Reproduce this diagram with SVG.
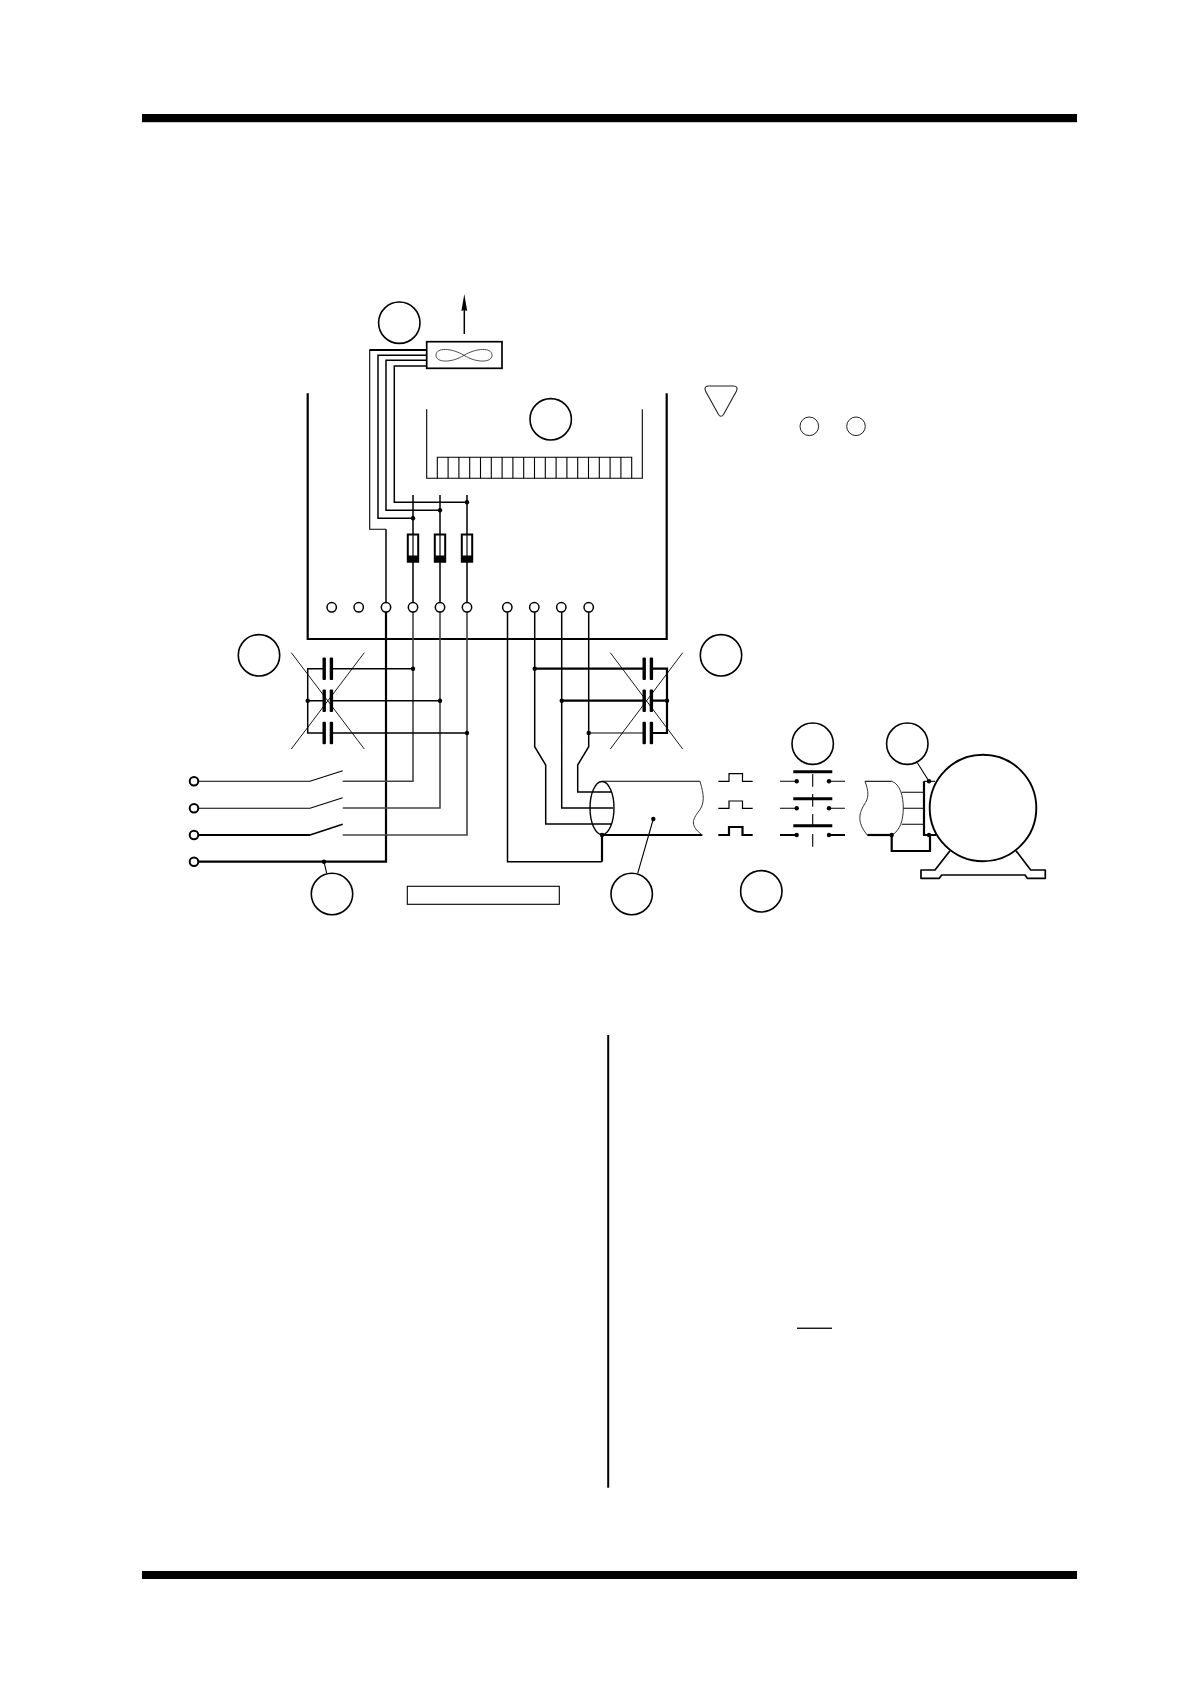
<svg xmlns="http://www.w3.org/2000/svg" width="1190" height="1684" viewBox="0 0 1190 1684">
<defs>
<g id="term"><circle r="4.7" fill="#fff" stroke="#000" stroke-width="1.5"/></g>
<g id="lug"><circle r="4.3" fill="#fff" stroke="#000" stroke-width="2"/></g>
<g id="fuse"><rect x="-5.2" y="-13.5" width="10.4" height="27" fill="#fff" stroke="#000" stroke-width="2"/><rect x="-6" y="7.5" width="12" height="7" fill="#000"/><line x1="0" y1="-13.5" x2="0" y2="8" stroke="#000" stroke-width="1.2"/></g>
<g id="cap"><rect x="-5.2" y="-11.2" width="3.4" height="22.4" rx="1" fill="#000"/><rect x="2" y="-11.2" width="3.4" height="22.4" rx="1" fill="#000"/></g>
</defs>
<style>
.bubble{fill:#fff;stroke:#000;stroke-width:1.6}
.w{fill:none;stroke:#000;stroke-linejoin:miter}
.t1{stroke-width:1.1}.t15{stroke-width:1.5}.t2{stroke-width:2.2}
.g{stroke:#444;stroke-width:1.6}
.x{stroke:#000;stroke-width:.9;fill:none}
.dot{fill:#000}
</style>
<rect width="1190" height="1684" fill="#fff"/>
<g id="page-rules" fill="#000">
<rect x="142" y="114" width="935" height="8.2"/>
<rect x="142" y="1571" width="935" height="8"/>
<rect x="607.2" y="1035" width="2" height="452.7"/>
<rect x="797" y="1327.6" width="35" height="1.3"/>
</g>
<g id="connectors">
<path class="w t2" d="M307.7 393.3V639H666.7V393.3"/>
<path class="w t1" d="M426.7 350H369.7V529.3H386"/>
<path class="w t15" d="M386 529.3V602"/>
<path class="w t2" d="M426.7 350H369.7"/>
<path class="w t15" d="M426.7 355.3H378V518.3H413"/>
<path class="w t15" d="M426.7 360.3H386V510.3H440"/>
<path class="w t15" d="M426.7 366H394.3V502.3H467"/>
<path class="w t15" d="M413 495V602M440 495V602M467 495V602"/>
<path class="w t2" d="M386 612V861.7H198.5"/>
<path class="w g" d="M413 612V781.3H342.7M440 612V808H342.7M467 612V835H342.7"/>
<path class="w t1" d="M198.3 781.3H310L342.7 770.7M198.3 808.3H310L342.7 797.7"/>
<path class="w t2" d="M198.3 835H310"/><path class="w t15" d="M310 835L342.7 824.3"/>
<path class="w t15" d="M324 668.7H307.7V733H324"/>
<path class="w t15" d="M331 668.7H413M331 700.7H440M331 733H467M307.7 700.7H324"/>
<path class="x" d="M291.3 652.7L364.3 749M364.3 652.7L291.3 749"/>
<path class="w t1" d="M324 861.7L326.7 873.3"/>
<path class="w t15" d="M507.5 612V861.7H602"/>
<path class="w t2" d="M602 861.7V835"/>
<path class="w t15" d="M534.7 612V746.7L545.7 765V824H612M561.7 612V808H613M588.7 612V746.7L577.7 765V792H612"/>
<path class="w t2" d="M534.7 668.7H644M561.7 700.7H644M651 668.7H667V733H651M651 700.7H667"/>
<path class="w t1" d="M588.7 733H644"/>
<path class="x" d="M610.3 652.7L682.7 749M682.7 652.7L610.3 749"/>
<path class="w t1" d="M653.3 819L637.7 873.3"/>
<path class="w t1" d="M917.3 762.7L929 781.3"/>
<line x1="464.3" y1="334" x2="464.3" y2="305" class="w t15"/>
<path d="M464.3 294L467.2 311L464.3 310L461.4 311Z" fill="#000"/>
<use href="#term" x="331.7" y="607.3"/><use href="#term" x="358.7" y="607.3"/><use href="#term" x="386" y="607.3"/><use href="#term" x="413" y="607.3"/><use href="#term" x="440" y="607.3"/><use href="#term" x="467" y="607.3"/><use href="#term" x="507.3" y="607.3"/><use href="#term" x="534.3" y="607.3"/><use href="#term" x="561.3" y="607.3"/><use href="#term" x="588.7" y="607.3"/>
<use href="#lug" x="194" y="781.3"/><use href="#lug" x="194" y="808.3"/><use href="#lug" x="194" y="835"/><use href="#lug" x="194" y="861.7"/>
<g class="dot"><circle cx="413" cy="518.3" r="2.2"/><circle cx="440" cy="510.3" r="2.2"/><circle cx="467" cy="502.3" r="2.2"/><circle cx="413" cy="668.7" r="2.2"/><circle cx="440" cy="700.7" r="2.2"/><circle cx="467" cy="733" r="2.2"/><circle cx="307.7" cy="700.7" r="2.2"/><circle cx="324" cy="861.7" r="2.2"/><circle cx="534.7" cy="668.7" r="2.2"/><circle cx="561.7" cy="700.7" r="2.2"/><circle cx="588.7" cy="733" r="2.2"/><circle cx="667" cy="700.7" r="2.2"/><circle cx="602" cy="835" r="2.2"/><circle cx="653.3" cy="819" r="2.2"/></g>
</g>
<g id="fan"><rect x="426.7" y="341.7" width="75.3" height="26.6" fill="#fff" stroke="#000" stroke-width="1.7"/><path d="M464 355.3C452 348 436 347 436 355.3C436 363 452 363 464 355.3C476 348 492 347 492 355.3C492 363 476 363 464 355.3Z" fill="none" stroke="#222" stroke-width=".8"/></g>
<g id="board"><path class="w t1" d="M426.7 409.3V478.3H642.3V409.3"/><path class="w t1" d="M437.3 478.3V457.3H631.7V478.3M448.1 457.3V478.3M458.9 457.3V478.3M469.7 457.3V478.3M480.5 457.3V478.3M491.3 457.3V478.3M502.1 457.3V478.3M512.9 457.3V478.3M523.7 457.3V478.3M534.5 457.3V478.3M545.3 457.3V478.3M556.1 457.3V478.3M566.9 457.3V478.3M577.7 457.3V478.3M588.5 457.3V478.3M599.3 457.3V478.3M610.1 457.3V478.3M620.9 457.3V478.3"/></g>
<g id="fuses"><use href="#fuse" x="413" y="548"/><use href="#fuse" x="440" y="548"/><use href="#fuse" x="467" y="548"/></g>
<g id="capacitors-in"><use href="#cap" x="327.7" y="668.7"/><use href="#cap" x="327.7" y="700.7"/><use href="#cap" x="327.7" y="733"/></g>
<g id="capacitors-out"><use href="#cap" x="647.7" y="668.7"/><use href="#cap" x="647.7" y="700.7"/><use href="#cap" x="647.7" y="733"/></g>
<g id="b1"><circle class="bubble" cx="399.3" cy="322.7" r="20.7"/></g>
<g id="b2"><circle class="bubble" cx="550.7" cy="419.3" r="20.7"/></g>
<g id="b3"><circle class="bubble" cx="259" cy="655.3" r="20.7"/></g>
<g id="b4"><circle class="bubble" cx="721" cy="655.3" r="20.7"/></g>
<g id="b5"><circle class="bubble" cx="332" cy="894" r="20.7"/></g>
<g id="b6"><circle class="bubble" cx="631.7" cy="894" r="20.7"/></g>
<g id="b7"><circle class="bubble" cx="761.3" cy="891.3" r="20.7"/></g>
<g id="b8"><circle class="bubble" cx="812.7" cy="743.7" r="20.7"/></g>
<g id="b9"><circle class="bubble" cx="907.3" cy="743.7" r="20.7"/></g>
<g id="note"><path d="M709 386H733.5Q738.5 386 736.5 391L723.5 414.5Q721 418 718.5 414.5L705.5 391Q703.5 386 709 386Z" fill="none" stroke="#222" stroke-width="1.1"/><circle cx="809.3" cy="426.3" r="9.3" fill="none" stroke="#222" stroke-width="1"/><circle cx="856" cy="426.3" r="9.3" fill="none" stroke="#222" stroke-width="1"/></g>
<g id="rect-label"><rect x="407.3" y="886.3" width="152" height="18" fill="#fff" stroke="#000" stroke-width="1.1"/></g>
<g id="cable">
<path class="w t1" d="M602 781.3H700"/><path class="w t2" d="M602 835H702.3"/>
<path d="M700 781.3C704 795 705 803 699 811C692 820 690 826 702.3 835" fill="none" stroke="#333" stroke-width="1"/>
<ellipse cx="602" cy="808" rx="12" ry="26.5" fill="none" stroke="#000" stroke-width="1.4"/>
</g>
<g id="pulses" fill="none" stroke="#000"><path stroke-width="1.2" d="M718.3 781.3H729V773.7H742.5V781.3H752.7M718.3 808.3H729V801H742.5V808.3H752.7"/><path stroke-width="2.2" d="M718.3 835H729V827H742.5V835H752.7"/></g>
<g id="contactor" stroke="#000" fill="none">
<path stroke-width="3" d="M793.3 771.7H832.3M793.3 798.7H832.3M793.3 825.7H832.3"/>
<path stroke-width="1.1" d="M780 781.3H796.7M829 781.3H845M780 808.3H796.7M829 808.3H845"/>
<path stroke-width="2.2" d="M780 835H796.7M829 835H845"/>
<path stroke-width="1.1" stroke-dasharray="12.7 7.3" d="M812.7 774V847"/>
<g class="dot" stroke="none"><circle cx="796.7" cy="781.3" r="2.2"/><circle cx="829" cy="781.3" r="2.2"/><circle cx="796.7" cy="808.3" r="2.2"/><circle cx="829" cy="808.3" r="2.2"/><circle cx="796.7" cy="835" r="2.2"/><circle cx="829" cy="835" r="2.2"/></g>
</g>
<g id="cable-end" fill="none" stroke="#000">
<path stroke-width="1.1" d="M865 781.3H891.7"/><path stroke-width="2.2" d="M867.3 835H891.7"/>
<path stroke-width="1" stroke="#333" d="M865 781.3C869 792 869 798 864 805C858 815 858 824 867.3 835M891.7 781.3C900 784 903.3 796 903.3 808.3C903.3 820 900 831 891.7 835"/>
<path stroke-width="1.1" d="M901.7 792.3H924M903.3 808.3H924M901.7 824.3H924"/>
<path stroke-width="2.2" d="M891.7 835V851H930V835"/>
<circle class="dot" cx="891.7" cy="835" r="2.2" stroke="none"/>
</g>
<g id="motor" fill="none" stroke="#000">
<path stroke-width="1.1" d="M924 781.3H935"/><path stroke-width="2.2" d="M924 781.3V835H936"/>
<path stroke-width="1.7" stroke-linejoin="round" d="M950 850.7L935 870H921V878.3H939.3L941.7 875H1025L1027.3 878.3H1045.3V870H1030.7L1016 850.7"/>
<circle cx="983" cy="808" r="53.3" stroke-width="1.9" fill="#fff"/>
<circle class="dot" cx="929" cy="781.3" r="2.2" stroke="none"/><circle class="dot" cx="929" cy="835" r="2.2" stroke="none"/>
</g>
</svg>
